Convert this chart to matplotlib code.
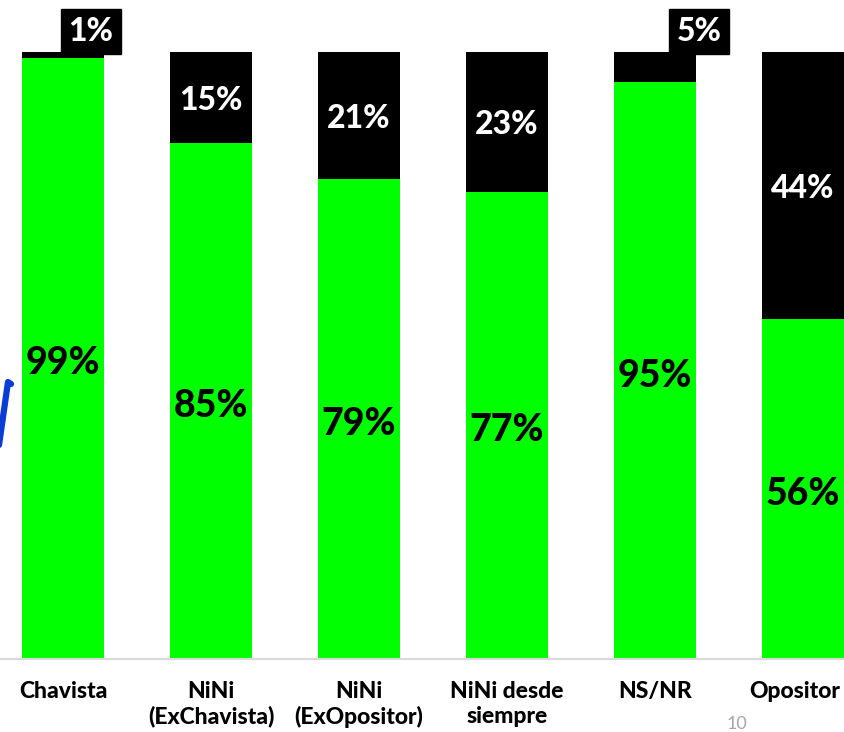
import matplotlib
matplotlib.use("Agg")
import matplotlib.pyplot as plt
from matplotlib.lines import Line2D
from matplotlib.transforms import ScaledTranslation

categories = ["Chavista", "NiNi\n(ExChavista)", "NiNi\n(ExOpositor)",
              "NiNi desde\nsiempre", "NS/NR", "Opositor"]
green_vals = [99, 85, 79, 77, 95, 56]
black_vals = [1, 15, 21, 23, 5, 44]
green_labels = ["99%", "85%", "79%", "77%", "95%", "56%"]
black_labels = ["1%", "15%", "21%", "23%", "5%", "44%"]

GREEN = "#00ff00"
BLACK = "#000000"
FONT = ["Lato", "DejaVu Sans"]

W, H = 844, 732
fig = plt.figure(figsize=(W / 100, H / 100), dpi=100)
ax_bottom = (H - 659) / H
ax_height = (659 - 52) / H
ax = fig.add_axes([0, ax_bottom, 1, ax_height])

step = 148.0
c0 = 63.0
ax.set_xlim(-c0 / step, (W - c0) / step)
ax.set_ylim(0, 100)

x = list(range(len(categories)))
width = 82 / step
ax.bar(x, green_vals, width=width, color=GREEN, zorder=2)
ax.bar(x, black_vals, width=width, bottom=green_vals, color=BLACK, zorder=2)

for i in x:
    g = green_vals[i]
    b = black_vals[i]
    ax.text(i, g / 2 - 0.8, green_labels[i], ha="center", va="center",
            fontsize=27, fontweight="black", color="black", family=FONT, zorder=3)
    if b >= 10:
        ax.text(i, g + b / 2 - 0.5, black_labels[i], ha="center", va="center",
                fontsize=23, fontweight="black", color="white", family=FONT, zorder=3)

# small values placed above the bar in a black box
small_offsets = {0: 28 / step, 4: 44 / step}
for i, off in small_offsets.items():
    ax.text(i + off, 103.4, black_labels[i], ha="center", va="center",
            fontsize=23, fontweight="black", color="white", family=FONT,
            bbox=dict(boxstyle="square,pad=0.25", facecolor=BLACK, edgecolor=BLACK),
            clip_on=False, zorder=4)

for s in ["top", "right", "left"]:
    ax.spines[s].set_visible(False)
ax.spines["bottom"].set_color("#d9d9d9")
ax.spines["bottom"].set_linewidth(1.5)
ax.set_yticks([])
ax.set_xticks(x)
labels = ax.set_xticklabels(categories, fontsize=16.5, fontweight="black", family=FONT,
                            linespacing=1.2)
ax.tick_params(axis="x", length=0, pad=16)
# keep the last label fully inside the figure
last = labels[-1]
last.set_transform(last.get_transform() + ScaledTranslation(-6 / 72, 0, fig.dpi_scale_trans))

# decorative blue stroke at the left edge
fig.add_artist(Line2D([11 / W, 8 / W, 4 / W, -2 / W],
                      [1 - 384 / H, 1 - 382 / H, 1 - 410 / H, 1 - 452 / H],
                      color="#0a3cd6", linewidth=4.5, solid_capstyle="round"))
# page number
fig.text(737 / W, 1 - 724 / H, "10", fontsize=13, color="#a6a6a6", family=FONT,
         ha="center", va="center")

fig.savefig("out.png", dpi=100)
